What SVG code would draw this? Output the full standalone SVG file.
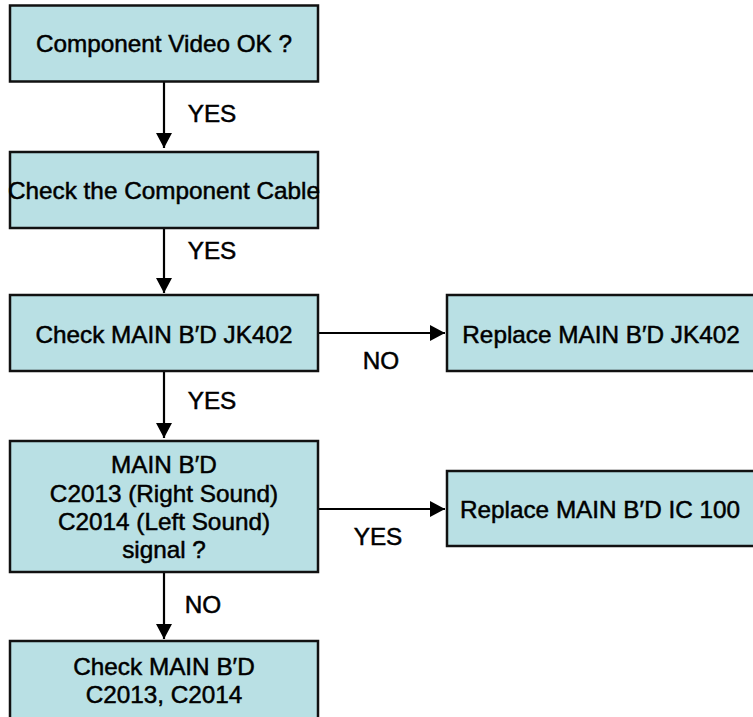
<svg xmlns="http://www.w3.org/2000/svg" width="753" height="717" viewBox="0 0 753 717">
<style>
.box{fill:#b9e0e4;stroke:#111;stroke-width:2.5}
.t{font-family:"Liberation Sans",Arial,sans-serif;font-size:24.3px;fill:#000;stroke:#000;stroke-width:0.5;text-anchor:middle}
.lbl{font-family:"Liberation Sans",Arial,sans-serif;font-size:24.3px;fill:#000;stroke:#000;stroke-width:0.5;text-anchor:middle}
.c{stroke:#000;stroke-width:2.2;fill:none}
</style>
<defs>
<marker id="ah" markerUnits="userSpaceOnUse" markerWidth="16" markerHeight="16" refX="15" refY="8" orient="auto">
<path d="M0,0 L15,8 L0,16 Z" fill="#000"/>
</marker>
</defs>
<rect x="0" y="0" width="753" height="717" fill="#fff"/>
<g id="connectors">
<line class="c" x1="164" y1="82" x2="164" y2="148" marker-end="url(#ah)"/>
<line class="c" x1="164" y1="228" x2="164" y2="293" marker-end="url(#ah)"/>
<line class="c" x1="164" y1="371" x2="164" y2="438" marker-end="url(#ah)"/>
<line class="c" x1="164" y1="573" x2="164" y2="639" marker-end="url(#ah)"/>
<line class="c" x1="318" y1="333" x2="445" y2="333" marker-end="url(#ah)"/>
<line class="c" x1="318" y1="509" x2="445" y2="509" marker-end="url(#ah)"/>
<text class="lbl" x="212" y="122">YES</text>
<text class="lbl" x="212" y="259">YES</text>
<text class="lbl" x="212" y="409">YES</text>
<text class="lbl" x="381" y="369">NO</text>
<text class="lbl" x="378" y="545">YES</text>
<text class="lbl" x="203" y="613">NO</text>
</g>
<g id="n1">
<rect class="box" x="10" y="5.5" width="308" height="76"/>
<text class="t" x="164" y="52">Component Video OK ?</text>
</g>
<g id="n2">
<rect class="box" x="10" y="152" width="308" height="76"/>
<text class="t" x="164" y="199">Check the Component Cable</text>
</g>
<g id="n3">
<rect class="box" x="10" y="295" width="308" height="76"/>
<text class="t" x="164" y="343">Check MAIN B′D JK402</text>
</g>
<g id="n4">
<rect class="box" x="447" y="295" width="320" height="76"/>
<text class="t" x="601" y="343">Replace MAIN B′D JK402</text>
</g>
<g id="n5">
<rect class="box" x="10" y="441" width="308" height="131"/>
<text class="t" x="164" y="473">MAIN B′D</text>
<text class="t" x="164" y="502">C2013 (Right Sound)</text>
<text class="t" x="164" y="530">C2014 (Left Sound)</text>
<text class="t" x="164" y="558">signal ?</text>
</g>
<g id="n6">
<rect class="box" x="447" y="471" width="320" height="75"/>
<text class="t" x="600" y="518">Replace MAIN B′D IC 100</text>
</g>
<g id="n7">
<rect class="box" x="10" y="641" width="308" height="90"/>
<text class="t" x="164" y="675">Check MAIN B′D</text>
<text class="t" x="164" y="703">C2013, C2014</text>
</g>
</svg>
